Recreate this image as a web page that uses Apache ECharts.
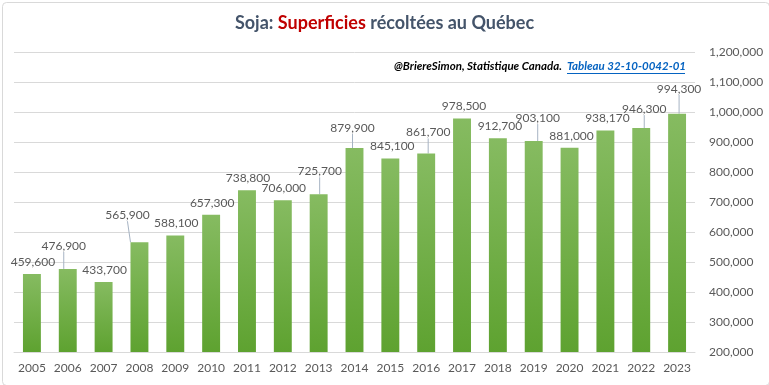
<!DOCTYPE html>
<html>
<head>
<meta charset="utf-8">
<script src="https://cdn.jsdelivr.net/npm/echarts@6/dist/echarts.min.js"></script>
<style>
html,body{margin:0;padding:0;background:#fff;}
#chart{width:769px;height:385px;}
</style>
</head>
<body>
<div id="chart"></div>
<script>
const years = ['2005','2006','2007','2008','2009','2010','2011','2012','2013','2014','2015','2016','2017','2018','2019','2020','2021','2022','2023'];
const superficies = [459600,476900,433700,565900,588100,657300,738800,706000,725700,879900,845100,861700,978500,912700,903100,881000,938170,946300,994300];
const yTicks = {min:200000, max:1200000, step:100000};
// label displacement (px); labels with a non-zero dy get a leader line
const labelDx = [1,-4,1,-12,1,1,1,1,1,-2,2,2,2,2,4,2,2,3,2];
const labelDy = [0,-11,0,-15,0,0,0,0,-11,-8,0,-9,0,0,-11,0,0,-7,-13];

const fmt = v => v.toLocaleString('en-US');
const FONT = 'Lato, "Noto Sans", sans-serif';

const chart = echarts.init(document.getElementById('chart'), null, {renderer:'canvas'});
chart.setOption({
  animation:false,
  backgroundColor:'#ffffff',
  title:{
    text:'{a|Soja: }{b|Superficies}{a| récoltées au Québec}',
    left:'center', top:9,
    textStyle:{
      rich:{
        a:{fontFamily:FONT, fontWeight:'bold', fontSize:18, color:'#44546A'},
        b:{fontFamily:FONT, fontWeight:'bold', fontSize:18, color:'#C00000'}
      }
    }
  },
  graphic:[
    {type:'rect', left:0, top:0, shape:{x:0.5,y:0.5,width:767,height:383,r:4}, style:{fill:'none', stroke:'#D9D9D9', lineWidth:1}, silent:true},
    {type:'text', right:83, top:60, style:{
      text:'{a|@BriereSimon, Statistique Canada.  }{b|Tableau 32-10-0042-01}',
      rich:{
        a:{fontFamily:FONT, fontStyle:'italic', fontWeight:'bold', fontSize:11.5, fill:'#000000'},
        b:{fontFamily:FONT, fontStyle:'italic', fontWeight:'bold', fontSize:11.5, fill:'#0563C1'}
      }
    }},
    {type:'line', shape:{x1:567, y1:73.5, x2:685, y2:73.5}, style:{stroke:'#0563C1', lineWidth:1}, silent:true}
  ],
  grid:{left:14, right:74, top:52, bottom:33, containLabel:false},
  xAxis:{
    type:'category', data:years,
    axisLine:{lineStyle:{color:'#D9D9D9'}},
    axisTick:{show:false},
    axisLabel:{color:'#595959', fontFamily:FONT, fontSize:12, margin:10, interval:0}
  },
  yAxis:{
    type:'value', position:'right',
    min:yTicks.min, max:yTicks.max, interval:yTicks.step,
    axisLine:{show:false}, axisTick:{show:false},
    splitLine:{lineStyle:{color:'#D9D9D9'}},
    axisLabel:{color:'#595959', fontFamily:FONT, fontSize:12, margin:14, formatter:fmt}
  },
  series:[{
    type:'bar',
    data:superficies.map((v,i)=>({value:v, labelLine:{show:labelDy[i]!==0}})),
    barWidth:'50%',
    itemStyle:{color:new echarts.graphic.LinearGradient(0,0,0,1,[
      {offset:0,color:'#86BB61'},{offset:1,color:'#5EA230'}])},
    label:{show:true, position:'top', distance:6, color:'#595959', fontFamily:FONT, fontSize:12, formatter:p=>fmt(p.value)},
    labelLine:{show:true, lineStyle:{color:'#A6B3C3', width:1}},
    labelLayout:function(p){ return {dx:labelDx[p.dataIndex], dy:labelDy[p.dataIndex]}; }
  }]
});
</script>
</body>
</html>
